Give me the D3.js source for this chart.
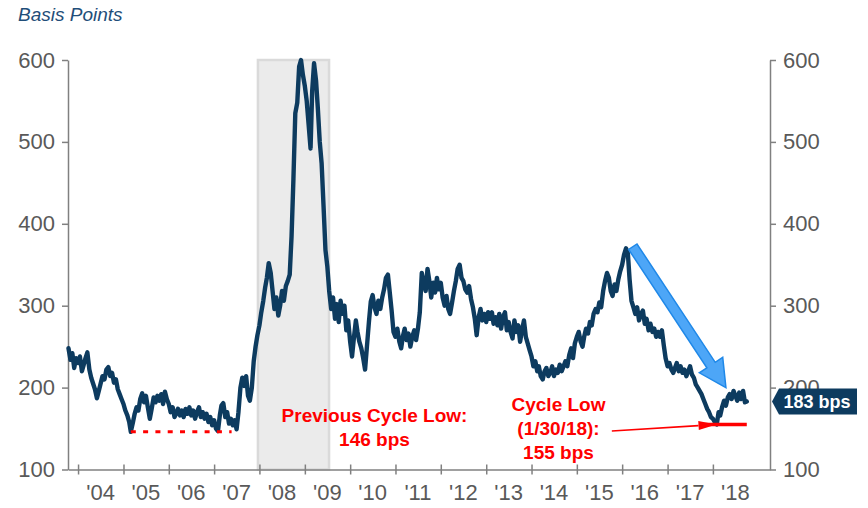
<!DOCTYPE html>
<html>
<head>
<meta charset="utf-8">
<script src="https://cdn.jsdelivr.net/npm/d3@7"></script>
<style>
  body { margin: 0; background: #fff; }
  svg { display: block; }
  text { font-family: "Liberation Sans", Arial, Helvetica, sans-serif; }
</style>
</head>
<body>
<svg id="chart" width="868" height="508"></svg>
<script>
// High-yield spread, basis points, sampled on the 1st and 16th of each month
// starting 16 Oct 2003.
const spreadBps = [
  // 2003 (Oct 16 - Dec 16)
  248, 234, 242, 224, 236,
  // 2004
  230, 238, 220, 228, 236, 243, 222, 212, 205, 198, 187, 196, 205, 214, 210, 222, 225, 214, 218, 206, 210, 198, 192, 186,
  // 2005
  180, 172, 166, 158, 146, 156, 168, 176, 172, 186, 193, 182, 190, 176, 162, 174, 188, 182, 190, 184, 192, 180, 195, 186,
  // 2006
  180, 170, 176, 164, 168, 174, 166, 172, 164, 174, 168, 176, 166, 172, 162, 170, 176, 164, 170, 162, 168, 158, 164, 154,
  // 2007
  160, 150, 147, 166, 178, 181, 164, 170, 156, 162, 154, 160, 149, 170, 200, 212, 202, 214, 190, 184, 200, 232, 250, 264,
  // 2008
  276, 292, 306, 322, 334, 352, 340, 318, 296, 310, 288, 300, 318, 306, 324, 330, 338, 385, 455, 535, 548, 592, 600, 582,
  // 2009
  568, 550, 520, 492, 562, 596, 575, 540, 500, 474, 420, 368, 348, 318, 296, 310, 284, 302, 280, 306, 290, 300, 270, 282,
  // 2010
  256, 238, 262, 282, 268, 256, 248, 236, 222, 250, 280, 305, 313, 298, 290, 306, 296, 310, 320, 334, 338, 316, 294, 268,
  // 2011
  262, 272, 256, 248, 262, 272, 258, 266, 250, 262, 270, 258, 272, 292, 340, 328, 318, 345, 330, 310, 328, 316, 334, 320,
  // 2012
  328, 310, 300, 312, 296, 290, 304, 318, 330, 345, 350, 334, 330, 320, 316, 324, 308, 298, 284, 264, 286, 296, 282, 290,
  // 2013
  280, 292, 284, 292, 278, 286, 276, 290, 272, 286, 292, 270, 280, 268, 260, 282, 268, 276, 256, 270, 282, 262, 254, 246,
  // 2014
  238, 226, 232, 220, 226, 214, 210, 220, 224, 214, 218, 226, 214, 222, 218, 228, 220, 226, 232, 226, 240, 248, 236, 254,
  // 2015
  262, 268, 256, 250, 262, 272, 266, 280, 276, 290, 296, 292, 304, 298, 318, 330, 340, 334, 318, 312, 326, 318, 332, 342,
  // 2016
  350, 362, 370, 364, 332, 306, 298, 290, 298, 282, 290, 294, 278, 284, 270, 278, 268, 272, 262, 268, 262, 270, 252, 236,
  // 2017
  226, 230, 222, 218, 224, 230, 220, 226, 218, 222, 214, 220, 226, 216, 212, 204, 200, 196, 192, 186, 180, 174, 170, 164,
  // 2018 (Jan 1 - Oct 1)
  162, 158, 155, 170, 166, 176, 184, 178, 188, 192, 186, 196, 190, 184, 194, 186, 196, 182, 183
];

const yTicks = [100, 200, 300, 400, 500, 600];
const tickYears = d3.range(2004, 2019);
const recession = [new Date(2007, 11, 20), new Date(2009, 6, 15)];

const prevCycleLow = 146;
const prevLowSpan = [new Date(2005, 2, 1), new Date(2007, 4, 22)];
const cycleLow = 155;
const cycleLowDate = new Date(2018, 0, 30);
const latest = spreadBps[spreadBps.length - 1];

const series = spreadBps.map((v, i) => {
  const h = i + 1;
  return { date: new Date(2003, 9 + Math.floor(h / 2), h % 2 ? 16 : 1), v };
});

const svg = d3.select("#chart");
const navy = "#0d3b5f";
const grey = "#808080";
const labelGrey = "#595959";
const red = "#ff0000";

const x = d3.scaleTime()
  .domain([new Date(2003, 9, 12), new Date(2019, 3, 6)])
  .range([68, 770]);
const y = d3.scaleLinear().domain([100, 600]).range([469.5, 60]);

// title
svg.append("text")
  .attr("x", 18).attr("y", 21)
  .attr("font-size", 19).attr("font-style", "italic")
  .attr("fill", "#1f4e79")
  .text("Basis Points");

// recession shading
svg.append("rect")
  .attr("x", x(recession[0])).attr("y", y(600))
  .attr("width", x(recession[1]) - x(recession[0]))
  .attr("height", y(100) - y(600))
  .attr("fill", "#ebebeb")
  .attr("stroke", "#dadada").attr("stroke-width", 2.5);

// axes
function styleAxis(g) {
  g.select(".domain").attr("stroke", grey).attr("stroke-width", 1.5);
  g.selectAll(".tick line").attr("stroke", grey).attr("stroke-width", 1.5);
  g.selectAll(".tick text").attr("fill", labelGrey).attr("font-size", 22)
    .attr("font-family", "\"Liberation Sans\", Arial, sans-serif");
}

svg.append("g").attr("transform", "translate(68,0)")
  .call(d3.axisLeft(y).tickValues(yTicks).tickSize(6).tickSizeOuter(0).tickPadding(7))
  .call(styleAxis);

svg.append("g").attr("transform", "translate(770,0)")
  .call(d3.axisRight(y).tickValues(yTicks).tickSize(6).tickSizeOuter(0).tickPadding(7))
  .call(styleAxis);

const xAxisG = svg.append("g").attr("transform", `translate(0,${y(100)})`)
  .call(d3.axisBottom(x)
    .tickValues(tickYears.map(yr => new Date(yr, 0, 1)))
    .tickSize(5).tickSizeOuter(0).tickFormat(""))
  .call(styleAxis);
xAxisG.selectAll(".tick line").attr("y1", -5).attr("y2", 5);

svg.append("g").selectAll("text")
  .data(tickYears)
  .join("text")
  .attr("x", yr => x(new Date(yr, 6, 1)))
  .attr("y", 500)
  .attr("text-anchor", "middle")
  .attr("font-size", 22)
  .attr("fill", labelGrey)
  .text(yr => "'" + String(yr).slice(2));

// spread line
svg.append("path")
  .datum(series)
  .attr("fill", "none")
  .attr("stroke", navy)
  .attr("stroke-width", 4.4)
  .attr("stroke-linejoin", "round")
  .attr("stroke-linecap", "round")
  .attr("d", d3.line().x(d => x(d.date)).y(d => y(d.v)));

// previous cycle low (dotted)
svg.append("line")
  .attr("x1", x(prevLowSpan[0])).attr("x2", x(prevLowSpan[1]))
  .attr("y1", y(prevCycleLow)).attr("y2", y(prevCycleLow))
  .attr("stroke", red).attr("stroke-width", 3)
  .attr("stroke-dasharray", "5 7.3");

function redLabel(lines, cx, y0, step) {
  const t = svg.append("text")
    .attr("text-anchor", "middle")
    .attr("font-size", 19).attr("font-weight", "bold")
    .attr("fill", red);
  lines.forEach((s, i) => t.append("tspan").attr("x", cx).attr("y", y0 + i * step).text(s));
}
redLabel(["Previous Cycle Low:", prevCycleLow + " bps"], 374.5, 421.5, 24);
redLabel(["Cycle Low", "(1/30/18):", cycleLow + " bps"], 558.5, 410.5, 24);

// pointer to the current cycle low
const p0 = [x(new Date(2015, 9, 10)), y(147)];
const p1 = [x(cycleLowDate), y(cycleLow)];
svg.append("line")
  .attr("x1", x(new Date(2017, 8, 15))).attr("x2", x(new Date(2018, 9, 1)))
  .attr("y1", y(cycleLow)).attr("y2", y(cycleLow))
  .attr("stroke", red).attr("stroke-width", 3.4);
{
  const dx = p1[0] - p0[0], dy = p1[1] - p0[1], L = Math.hypot(dx, dy);
  const ux = dx / L, uy = dy / L, px = -uy, py = ux;
  const hl = 18, hw = 4.5;
  const bx = p1[0] - ux * hl, by = p1[1] - uy * hl;
  svg.append("line")
    .attr("x1", p0[0]).attr("y1", p0[1]).attr("x2", bx).attr("y2", by)
    .attr("stroke", red).attr("stroke-width", 1.6);
  svg.append("polygon")
    .attr("points", [[p1[0], p1[1]], [bx + px * hw, by + py * hw], [bx - px * hw, by - py * hw]].join(" "))
    .attr("fill", red);
}

// blue trend arrow
function arrowPoints(a, b, shaftHalf, headHalf, headLen) {
  const dx = b[0] - a[0], dy = b[1] - a[1], L = Math.hypot(dx, dy);
  const ux = dx / L, uy = dy / L, px = -uy, py = ux;
  const bx = b[0] - ux * headLen, by = b[1] - uy * headLen;
  return [
    [a[0] + px * shaftHalf, a[1] + py * shaftHalf],
    [bx + px * shaftHalf, by + py * shaftHalf],
    [bx + px * headHalf, by + py * headHalf],
    [b[0], b[1]],
    [bx - px * headHalf, by - py * headHalf],
    [bx - px * shaftHalf, by - py * shaftHalf],
    [a[0] - px * shaftHalf, a[1] - py * shaftHalf]
  ];
}
svg.append("polygon")
  .attr("points", arrowPoints([x(new Date(2016, 2, 27)), y(372)], [x(new Date(2018, 3, 16)), y(200)], 5, 14, 27).join(" "))
  .attr("fill", "#4da6f7")
  .attr("stroke", "#1f88e8")
  .attr("stroke-width", 1.5)
  .attr("stroke-linejoin", "miter");

// latest value tag
{
  const ty = y(latest);
  const tx = 772;
  svg.append("polygon")
    .attr("points", [[tx, ty], [tx + 7, ty - 13], [857, ty - 13], [857, ty + 13], [tx + 7, ty + 13]].join(" "))
    .attr("fill", navy);
  svg.append("text")
    .attr("x", 817).attr("y", ty + 6.5)
    .attr("text-anchor", "middle")
    .attr("font-size", 18).attr("font-weight", "bold")
    .attr("fill", "#fff")
    .text(latest + " bps");
}
</script>
</body>
</html>
